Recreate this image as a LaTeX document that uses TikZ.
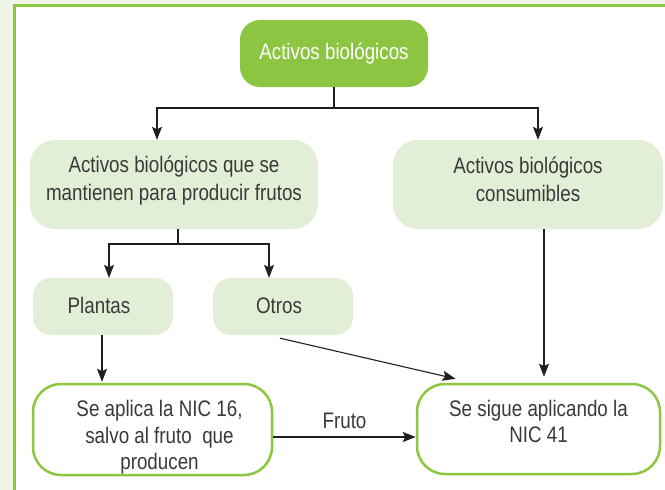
\documentclass[tikz,border=0pt]{standalone}
\usepackage{fontspec}
\setmainfont{Liberation Sans}[FakeStretch=0.835]
\usepackage{tikz}
\usetikzlibrary{arrows.meta,positioning}

\definecolor{pagegreen}{HTML}{EEF4E6}
\definecolor{framegreen}{HTML}{8DC63F}
\definecolor{headgreen}{HTML}{8BC541}
\definecolor{softgreen}{HTML}{E2EFD6}
\definecolor{textgray}{HTML}{3A3A3A}

\tikzset{
	softbox/.style={fill=softgreen, draw=none, inner sep=0pt},
	outlinebox/.style={fill=white, draw=framegreen, line width=2.5pt, inner sep=0pt},
	boxtext/.style={align=center, inner sep=0pt, text=textgray},
	connector/.style={draw=black!88, line width=1.1pt},
	arrowline/.style={connector, -{Stealth[length=13pt,width=10pt,inset=2.5pt]}}
}

\begin{document}
\begin{tikzpicture}[x=1pt, y=1pt, font=\fontsize{22.5}{26.5}\selectfont]
	\useasboundingbox (0,0) rectangle (665,-490);
	% page and frame
	\fill[pagegreen] (0,0) rectangle (665,-490);
	\fill[white] (14,-5) rectangle (665,-490);
	\draw[framegreen, line width=3pt] (14,-490) -- (14,-5) -- (665,-5);

	% boxes
	\node[fill=headgreen, rounded corners=20pt, inner sep=0pt, minimum width=188pt, minimum height=67pt,
		label={[name=assets-text, boxtext, text=white, yshift=0pt]center:Activos biológicos}]
		(assets) at (334,-53.5) {};
	\node[softbox, rounded corners=25pt, minimum width=288pt, minimum height=89pt,
		label={[name=bearer-text, boxtext, yshift=3.5pt]center:Activos biológicos que se\\[1.5pt]mantienen para producir frutos}]
		(bearer) at (174,-184.5) {};
	\node[softbox, rounded corners=25pt, minimum width=270pt, minimum height=89pt,
		label={[name=consumable-text, boxtext, yshift=5.5pt]center:Activos biológicos\\[1.5pt]consumibles}]
		(consumable) at (528,-184.5) {};
	\node[softbox, rounded corners=18pt, minimum width=140pt, minimum height=57pt,
		label={[name=plants-text, boxtext, xshift=-4pt, yshift=1pt]center:Plantas}]
		(plants) at (103,-306.5) {};
	\node[softbox, rounded corners=18pt, minimum width=140pt, minimum height=57pt,
		label={[name=others-text, boxtext, xshift=-4pt, yshift=1pt]center:Otros}]
		(others) at (283,-306.5) {};
	\node[outlinebox, rounded corners=28pt, minimum width=239pt, minimum height=91pt,
		label={[name=nic16-text, boxtext, xshift=7pt, yshift=-8pt]center:{Se aplica la NIC 16,\\salvo al fruto\ \ que\\producen}}]
		(nic16) at (152.5,-429.5) {};
	\node[outlinebox, rounded corners=28pt, minimum width=243pt, minimum height=90pt,
		label={[name=nic41-text, boxtext, yshift=7.5pt]center:Se sigue aplicando la\\NIC 41}]
		(nic41) at (538.5,-429) {};

	% connectors
	\coordinate (split1) at (334,-108);
	\coordinate (split2) at (178,-244);
	\draw[connector] (assets) -- (split1);
	\draw[arrowline] (split1) -| ([xshift=-17pt]bearer.north);
	\draw[arrowline] (split1) -| ([xshift=10pt]consumable.north);
	\draw[connector] ([xshift=4pt]bearer.south) -- (split2);
	\draw[arrowline] (split2) -| ([xshift=6pt]plants.north);
	\draw[arrowline] (split2) -| ([xshift=-14pt]others.north);
	\draw[arrowline] ([xshift=-1pt]plants.south) -- ([xshift=-50.5pt,yshift=1pt]nic16.north);
	\draw[arrowline] ([xshift=-3pt,yshift=-3pt]others.south) -- ([xshift=-83pt,yshift=4pt]nic41.north);
	\draw[arrowline] ([xshift=16pt]consumable.south) -- ([xshift=5.5pt,yshift=6pt]nic41.north);
	\draw[arrowline] ([yshift=-7.5pt]nic16.east) -- ([yshift=-8pt]nic41.west)
		node[midway, above=4pt, text=textgray] (fruitlabel) {Fruto};
\end{tikzpicture}
\end{document}
